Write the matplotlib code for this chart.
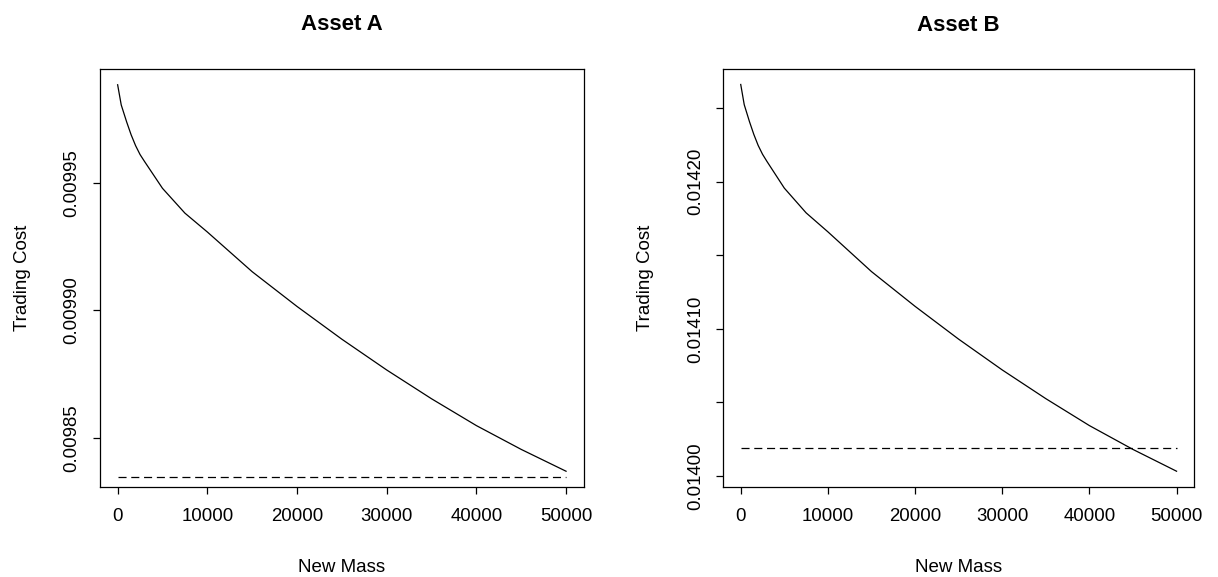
import numpy as np
import matplotlib
matplotlib.use("Agg")
import matplotlib.pyplot as plt

plt.rcParams["font.family"] = ["Liberation Sans", "DejaVu Sans"]
plt.rcParams["lines.scale_dashes"] = False

# new mass grid (shared by both assets)
new_mass = [0, 400, 1000, 1500, 2000, 2500, 3000, 5000, 7500, 10000,
            15000, 20000, 25000, 30000, 35000, 40000, 45000, 50000]

# trading cost curves
cost_a = [0.00998858, 0.00998067, 0.00997404, 0.00996898, 0.00996469,
          0.00996118, 0.00995846, 0.00994793, 0.00993819, 0.00993079,
          0.00991520, 0.00990156, 0.00988870, 0.00987662, 0.00986532,
          0.00985479, 0.00984544, 0.00983687]
cost_b = [0.0142660, 0.0142523, 0.0142408, 0.0142321, 0.0142246,
          0.0142186, 0.0142138, 0.0141956, 0.0141788, 0.0141659,
          0.0141389, 0.0141153, 0.0140930, 0.0140721, 0.0140526,
          0.0140343, 0.0140181, 0.0140033]

# reference (flat) cost levels
base_a = 0.0098348
base_b = 0.0140189

ticks_a = [0.00985, 0.00990, 0.00995]
labels_a = ["0.00985", "0.00990", "0.00995"]
ticks_b = [0.01400, 0.01405, 0.01410, 0.01415, 0.01420, 0.01425]
labels_b = ["0.01400", "", "0.01410", "", "0.01420", ""]
xticks = [0, 10000, 20000, 30000, 40000, 50000]

W, H = 1218, 577
fig = plt.figure(figsize=(W / 100, H / 100), dpi=100)


def r_range(vals):
    lo, hi = min(vals), max(vals)
    pad = 0.04 * (hi - lo)
    return lo - pad, hi + pad


def panel(rect, x, y, base, yt, yl, title):
    l, t, r, b = rect
    ax = fig.add_axes([l / W, (H - b) / H, (r - l) / W, (b - t) / H])
    ax.plot(x, y, color="black", lw=0.9)
    ax.plot([x[0], x[-1]], [base, base], color="black", lw=0.9,
            dashes=(5.8, 3.4))
    ax.set_xlim(*r_range(x))
    ax.set_ylim(*r_range(y))
    ax.set_xticks(xticks)
    ax.set_xticklabels([str(v) for v in xticks])
    ax.set_yticks(yt)
    ax.set_yticklabels(yl, rotation=90, va="center")
    ax.tick_params(direction="out", length=5, width=0.9, labelsize=13.4)
    ax.tick_params(axis="x", pad=10)
    ax.tick_params(axis="y", pad=9)
    for s in ax.spines.values():
        s.set_linewidth(0.9)
    ax.set_xlabel("New Mass", fontsize=13.5)
    ax.set_ylabel("Trading Cost", fontsize=13.5)
    ax.xaxis.set_label_coords(0.5, -(567 - b) / (b - t), transform=ax.transAxes)
    ax.xaxis.label.set_va("center")
    ax.yaxis.set_label_coords(-(l - 22) / (r - l), 0.5)
    ax.yaxis.label.set_va("center")
    ax.text(0.5, 1 + (t - 25) / (b - t), title, transform=ax.transAxes,
            ha="center", va="center", fontsize=16, fontweight="bold")
    return ax


panel((99.7, 69.3, 584, 486.7), new_mass, cost_a, base_a, ticks_a, labels_a, "Asset A")
ax_b = panel((723.3, 69, 1194, 486.7), new_mass, cost_b, base_b, ticks_b, labels_b, "Asset B")
ax_b.yaxis.set_label_coords(-(723.3 - 645) / (1194 - 723.3), 0.5)

fig.savefig("out.png", dpi=100)
